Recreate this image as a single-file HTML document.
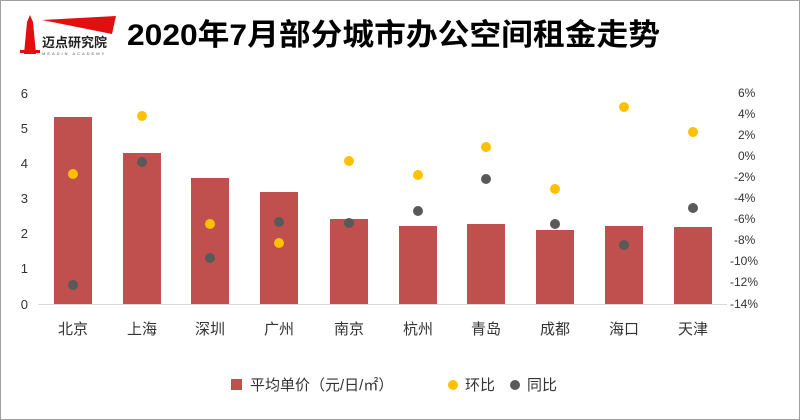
<!DOCTYPE html>
<html><head><meta charset="utf-8"><style>
body{margin:0;background:#fff}
svg{display:block;font-family:"Liberation Sans","Noto Sans CJK SC",sans-serif}
</style></head><body>
<svg width="800" height="420" viewBox="0 0 800 420">
<rect x="0.5" y="0.5" width="799" height="419" fill="#fff" stroke="#a0a0a0"/>
<polygon points="24,54 27,22 30,15 33,22 36,54" fill="#e01010"/>
<rect x="20" y="50" width="20" height="3" fill="#e01010"/>
<polygon points="42,20 116,16 112,34" fill="#e01010"/>
<text x="42" y="47" font-size="13" font-weight="bold" fill="#222">迈点研究院</text>
<text x="42" y="55" font-size="4" fill="#555" letter-spacing="2">MEADIN ACADEMY</text>
<text x="127" y="45" font-size="30" font-weight="bold" fill="#000" textLength="533" lengthAdjust="spacingAndGlyphs">2020年7月部分城市办公空间租金走势</text>
<g font-size="13" fill="#333">
<text x="28" y="98" text-anchor="end">6</text>
<text x="28" y="133" text-anchor="end">5</text>
<text x="28" y="168" text-anchor="end">4</text>
<text x="28" y="203" text-anchor="end">3</text>
<text x="28" y="238" text-anchor="end">2</text>
<text x="28" y="273" text-anchor="end">1</text>
<text x="28" y="309" text-anchor="end">0</text>
</g>
<g font-size="12" fill="#333">
<text x="738" y="97">6%</text><text x="738" y="118">4%</text><text x="738" y="139">2%</text>
<text x="738" y="160">0%</text><text x="734" y="181">-2%</text><text x="734" y="202">-4%</text>
<text x="734" y="223">-6%</text><text x="734" y="244">-8%</text><text x="730" y="265">-10%</text>
<text x="730" y="286">-12%</text><text x="730" y="308">-14%</text>
</g>
<line x1="38" y1="304.5" x2="727" y2="304.5" stroke="#d9d9d9"/>
<g fill="#c0504d">
<rect x="54" y="117" width="38" height="187"/>
<rect x="123" y="153" width="38" height="151"/>
<rect x="191" y="178" width="38" height="126"/>
<rect x="260" y="192" width="38" height="112"/>
<rect x="330" y="219" width="38" height="85"/>
<rect x="399" y="226" width="38" height="78"/>
<rect x="467" y="224" width="38" height="80"/>
<rect x="536" y="230" width="38" height="74"/>
<rect x="605" y="226" width="38" height="78"/>
<rect x="674" y="227" width="38" height="77"/>
</g>
<g fill="#ffc000">
<circle cx="73" cy="174" r="5"/><circle cx="142" cy="116" r="5"/><circle cx="210" cy="224" r="5"/>
<circle cx="279" cy="243" r="5"/><circle cx="349" cy="161" r="5"/><circle cx="418" cy="175" r="5"/>
<circle cx="486" cy="147" r="5"/><circle cx="555" cy="189" r="5"/><circle cx="624" cy="107" r="5"/>
<circle cx="693" cy="132" r="5"/>
</g>
<g fill="#595959">
<circle cx="73" cy="285" r="5"/><circle cx="142" cy="162" r="5"/><circle cx="210" cy="258" r="5"/>
<circle cx="279" cy="222" r="5"/><circle cx="349" cy="223" r="5"/><circle cx="418" cy="211" r="5"/>
<circle cx="486" cy="179" r="5"/><circle cx="555" cy="224" r="5"/><circle cx="624" cy="245" r="5"/>
<circle cx="693" cy="208" r="5"/>
</g>
<g font-size="15" fill="#333" text-anchor="middle">
<text x="73" y="334">北京</text><text x="142" y="334">上海</text><text x="210" y="334">深圳</text>
<text x="279" y="334">广州</text><text x="349" y="334">南京</text><text x="418" y="334">杭州</text>
<text x="486" y="334">青岛</text><text x="555" y="334">成都</text><text x="624" y="334">海口</text>
<text x="693" y="334">天津</text>
</g>
<rect x="231" y="379" width="11" height="11" fill="#c0504d"/>
<text x="250" y="390" font-size="15" fill="#333">平均单价（元/日/㎡）</text>
<circle cx="453" cy="385" r="5" fill="#ffc000"/>
<text x="465" y="390" font-size="15" fill="#333">环比</text>
<circle cx="515" cy="385" r="5" fill="#595959"/>
<text x="527" y="390" font-size="15" fill="#333">同比</text>
</svg>
</body></html>
